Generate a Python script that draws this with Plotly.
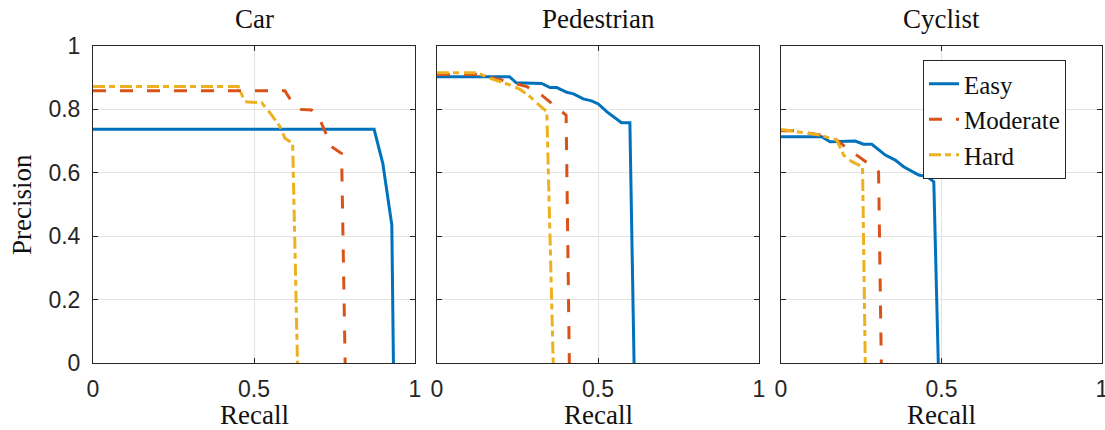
import plotly.graph_objects as go

# ---------------- data ----------------
panels = ["Car", "Pedestrian", "Cyclist"]
series_names = ["Easy", "Moderate", "Hard"]

car_easy_r = [0.0, 0.873, 0.90, 0.928, 0.933]
car_easy_p = [0.737, 0.737, 0.63, 0.435, 0.0]
car_mod_r = [0.0, 0.596, 0.617, 0.645, 0.679, 0.705, 0.741, 0.772, 0.783]
car_mod_p = [0.859, 0.859, 0.824, 0.800, 0.798, 0.767, 0.682, 0.661, 0.0]
car_hard_r = [0.0, 0.451, 0.472, 0.524, 0.555, 0.581, 0.596, 0.620, 0.635]
car_hard_p = [0.872, 0.872, 0.824, 0.821, 0.782, 0.745, 0.709, 0.693, 0.0]

ped_easy_r = [0.0, 0.225, 0.246, 0.325, 0.351, 0.372, 0.403, 0.424, 0.454, 0.480, 0.501, 0.527, 0.573, 0.599, 0.612]
ped_easy_p = [0.903, 0.903, 0.884, 0.882, 0.869, 0.869, 0.854, 0.849, 0.833, 0.827, 0.817, 0.793, 0.758, 0.758, 0.0]
ped_mod_r = [0.0, 0.124, 0.200, 0.279, 0.325, 0.351, 0.387, 0.401, 0.411]
ped_mod_p = [0.910, 0.910, 0.893, 0.872, 0.845, 0.824, 0.793, 0.782, 0.0]
ped_hard_r = [0.0, 0.124, 0.165, 0.227, 0.258, 0.289, 0.320, 0.341, 0.361]
ped_hard_p = [0.916, 0.916, 0.898, 0.877, 0.863, 0.840, 0.811, 0.793, 0.0]

cyc_easy_r = [0.0, 0.127, 0.153, 0.231, 0.257, 0.283, 0.325, 0.356, 0.382, 0.429, 0.455, 0.476, 0.490]
cyc_easy_p = [0.714, 0.714, 0.698, 0.700, 0.690, 0.690, 0.656, 0.640, 0.619, 0.593, 0.588, 0.572, 0.0]
cyc_mod_r = [0.0, 0.040, 0.122, 0.174, 0.200, 0.236, 0.268, 0.304, 0.3125]
cyc_mod_p = [0.733, 0.733, 0.719, 0.703, 0.682, 0.656, 0.632, 0.603, 0.0]
cyc_hard_r = [0.0, 0.075, 0.122, 0.174, 0.195, 0.221, 0.254, 0.2625]
cyc_hard_p = [0.737, 0.726, 0.719, 0.703, 0.656, 0.635, 0.619, 0.0]

data = [
    [(car_easy_r, car_easy_p), (car_mod_r, car_mod_p), (car_hard_r, car_hard_p)],
    [(ped_easy_r, ped_easy_p), (ped_mod_r, ped_mod_p), (ped_hard_r, ped_hard_p)],
    [(cyc_easy_r, cyc_easy_p), (cyc_mod_r, cyc_mod_p), (cyc_hard_r, cyc_hard_p)],
]

x_ticks = [0, 0.5, 1]
x_tick_text = ["0", "0.5", "1"]
y_ticks = [0, 0.2, 0.4, 0.6, 0.8, 1]
y_tick_text = ["0", "0.2", "0.4", "0.6", "0.8", "1"]

# ---------------- style ----------------
colors = ["#0072BD", "#D95319", "#EDB120"]
dashes = ["solid", "13px,14px", "12px,4px,6px,5px"]
SERIF = "Liberation Serif"
SANS = "Liberation Sans"

W, H = 1105, 430
ML, MR, MT, MB = 93, 3, 46, 67
pw = W - ML - MR
ph = H - MT - MB
px_domains = [(93, 415), (437, 759), (781, 1102)]
domains = [((a - ML) / pw, (b - ML) / pw) for a, b in px_domains]

fig = go.Figure()

for i, panel in enumerate(panels):
    xa = "x" if i == 0 else f"x{i+1}"
    ya = "y" if i == 0 else f"y{i+1}"
    for j, name in enumerate(series_names):
        r, p = data[i][j]
        fig.add_trace(go.Scatter(
            x=r, y=p, mode="lines", name=name,
            line=dict(color=colors[j], width=3, dash=dashes[j]),
            xaxis=xa, yaxis=ya,
            showlegend=(i == 2),
            legendrank=j,
        ))

axis_common = dict(
    showline=True, linecolor="#262626", linewidth=1, mirror="allticks",
    ticks="inside", ticklen=5, tickcolor="#262626", tickwidth=1,
    showgrid=True, gridcolor="#e3e3e3", gridwidth=1, zeroline=False,
    tickfont=dict(family=SANS, size=23, color="#262626"),
    fixedrange=True, automargin=False, ticklabeloverflow="allow",
)

layout = dict(
    width=W, height=H,
    margin=dict(l=ML, r=MR, t=MT, b=MB, autoexpand=False),
    paper_bgcolor="white", plot_bgcolor="white",
    showlegend=True,
    legend=dict(
        x=(923 - ML) / pw, y=(H - MB - 60) / ph,
        xanchor="left", yanchor="top",
        bgcolor="white", bordercolor="#262626", borderwidth=1,
        font=dict(family=SERIF, size=25, color="#111111"),
        tracegroupgap=0, itemwidth=30,
    ),
)

for i in range(3):
    xk = "xaxis" if i == 0 else f"xaxis{i+1}"
    yk = "yaxis" if i == 0 else f"yaxis{i+1}"
    layout[xk] = dict(axis_common, domain=list(domains[i]), range=[0, 1],
                      tickvals=x_ticks, ticktext=x_tick_text,
                      anchor="y" if i == 0 else f"y{i+1}",
                      ticklabelstandoff=5)
    layout[yk] = dict(axis_common, domain=[0, 1], range=[0, 1],
                      tickvals=y_ticks, ticktext=y_tick_text,
                      anchor="x" if i == 0 else f"x{i+1}",
                      showticklabels=(i == 0),
                      ticklabelstandoff=7)

fig.update_layout(**layout)

annotations = []
for i, panel in enumerate(panels):
    cx = (px_domains[i][0] + px_domains[i][1]) / 2
    annotations.append(dict(
        text=panel, x=(cx - ML) / pw, y=(H - MB - 19) / ph,
        xref="paper", yref="paper", showarrow=False,
        xanchor="center", yanchor="middle",
        font=dict(family=SERIF, size=27, color="#111111"),
    ))
    annotations.append(dict(
        text="Recall", x=(cx - ML) / pw, y=(H - MB - 415) / ph,
        xref="paper", yref="paper", showarrow=False,
        xanchor="center", yanchor="middle",
        font=dict(family=SERIF, size=27, color="#111111"),
    ))
annotations.append(dict(
    text="Precision", x=(22 - ML) / pw, y=(H - MB - 205) / ph,
    xref="paper", yref="paper", showarrow=False, textangle=-90,
    xanchor="center", yanchor="middle",
    font=dict(family=SERIF, size=27, color="#111111"),
))
fig.update_layout(annotations=annotations)

fig.write_html(
    "out.html",
    config={"displayModeBar": False},
    post_script="document.body.style.margin='0';document.body.style.padding='0';",
)
